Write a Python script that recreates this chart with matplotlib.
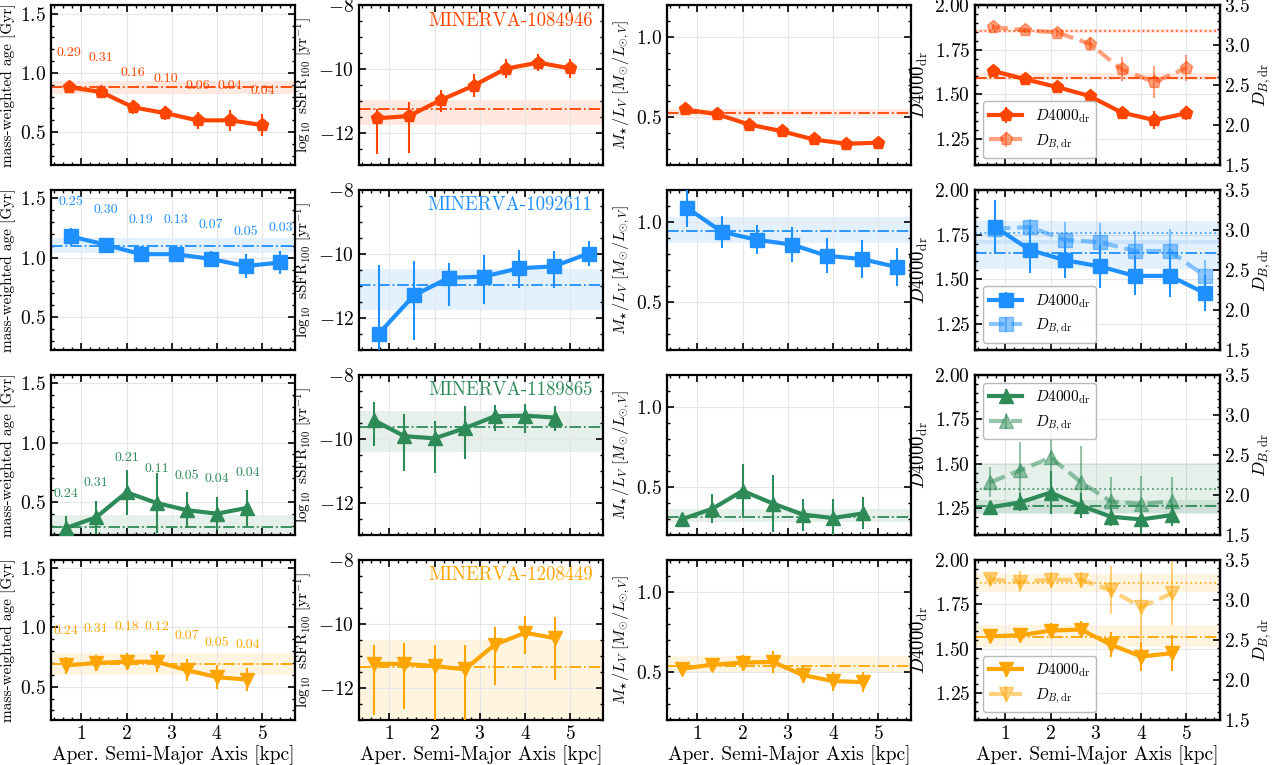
import matplotlib

matplotlib.use("Agg")
import matplotlib.pyplot as plt
from matplotlib.ticker import AutoMinorLocator, MultipleLocator

plt.rcParams.update({
    "font.family": "serif",
    "font.serif": ["cmr10"],
    "mathtext.fontset": "cm",
    "axes.formatter.use_mathtext": True,
    "axes.linewidth": 1.6,
    "xtick.direction": "in",
    "ytick.direction": "in",
    "xtick.major.size": 5,
    "ytick.major.size": 5,
    "xtick.minor.size": 2.5,
    "ytick.minor.size": 2.5,
    "xtick.major.width": 1.2,
    "ytick.major.width": 1.2,
    "xtick.minor.width": 1.0,
    "ytick.minor.width": 1.0,
    "xtick.labelsize": 14,
    "ytick.labelsize": 14,
    "axes.labelsize": 11,
    "axes.labelpad": 2,
})

# ---- MINERVA-1084946 ----
x_a = [0.72, 1.43, 2.15, 2.86, 3.57, 4.29, 5.00]
age_a = [0.88, 0.84, 0.71, 0.66, 0.60, 0.60, 0.56]
age_err_a = [0.03, 0.04, 0.06, 0.06, 0.07, 0.09, 0.09]
frac_a = ["0.29", "0.31", "0.16", "0.10", "0.06", "0.04", "0.04"]
ssfr_a = [-11.53, -11.46, -10.95, -10.51, -9.98, -9.79, -9.97]
ssfr_lo_a = [1.10, 1.15, 0.37, 0.35, 0.30, 0.27, 0.30]
ssfr_hi_a = [0.30, 0.45, 0.32, 0.37, 0.30, 0.27, 0.30]
ml_a = [0.55, 0.52, 0.455, 0.414, 0.362, 0.335, 0.342]
ml_err_a = [0.015, 0.015, 0.015, 0.015, 0.015, 0.015, 0.015]
d4000_a = [1.632, 1.585, 1.54, 1.49, 1.397, 1.355, 1.393]
d4000_err_a = [0.015, 0.015, 0.02, 0.02, 0.03, 0.05, 0.04]
db_a = [3.23, 3.19, 3.16, 3.02, 2.70, 2.54, 2.72]
db_err_a = [0.04, 0.03, 0.05, 0.09, 0.15, 0.20, 0.16]
# integrated value, band low, band high
age_int_a = [0.88, 0.82, 0.93]
ssfr_int_a = [-11.24, -11.75, -10.95]
ml_int_a = [0.53, 0.51, 0.555]
d4000_int_a = [1.594, 1.58, 1.62]
db_int_a = [3.18, 3.15, 3.21]

# ---- MINERVA-1092611 ----
x_b = [0.77, 1.54, 2.31, 3.09, 3.86, 4.63, 5.40]
age_b = [1.18, 1.11, 1.03, 1.03, 0.99, 0.93, 0.96]
age_err_b = [0.07, 0.06, 0.07, 0.07, 0.07, 0.10, 0.10]
frac_b = ["0.25", "0.30", "0.19", "0.13", "0.07", "0.05", "0.03"]
ssfr_b = [-12.48, -11.29, -10.74, -10.70, -10.44, -10.38, -9.98]
ssfr_lo_b = [1.00, 1.40, 0.89, 0.85, 0.62, 0.68, 0.40]
ssfr_hi_b = [2.13, 1.09, 0.46, 0.67, 0.57, 0.48, 0.38]
ml_b = [1.09, 0.94, 0.89, 0.86, 0.79, 0.77, 0.72]
ml_err_b = [0.12, 0.10, 0.09, 0.11, 0.11, 0.12, 0.12]
d4000_b = [1.794, 1.664, 1.607, 1.571, 1.518, 1.518, 1.422]
d4000_err_b = [0.15, 0.13, 0.10, 0.12, 0.11, 0.12, 0.10]
db_b = [3.02, 3.04, 2.88, 2.85, 2.74, 2.74, 2.43]
db_err_b = [0.02, 0.10, 0.22, 0.24, 0.25, 0.27, 0.20]
age_int_b = [1.10, 1.04, 1.17]
ssfr_int_b = [-10.97, -11.73, -10.46]
ml_int_b = [0.943, 0.87, 1.03]
d4000_int_b = [1.647, 1.556, 1.718]
db_int_b = [2.97, 2.83, 3.12]

# ---- MINERVA-1189865 ----
x_c = [0.67, 1.33, 2.00, 2.67, 3.33, 4.00, 4.67]
age_c = [0.28, 0.37, 0.58, 0.49, 0.43, 0.40, 0.45]
age_err_c = [0.10, 0.14, 0.19, 0.25, 0.15, 0.14, 0.15]
frac_c = ["0.24", "0.31", "0.21", "0.11", "0.05", "0.04", "0.04"]
ssfr_c = [-9.42, -9.91, -9.98, -9.66, -9.29, -9.27, -9.33]
ssfr_lo_c = [0.80, 1.10, 1.07, 0.95, 0.45, 0.53, 0.41]
ssfr_hi_c = [0.57, 0.70, 0.53, 0.68, 0.34, 0.37, 0.37]
ml_c = [0.30, 0.364, 0.476, 0.397, 0.328, 0.306, 0.336]
ml_err_c = [0.04, 0.09, 0.17, 0.18, 0.10, 0.12, 0.10]
d4000_c = [1.256, 1.284, 1.339, 1.265, 1.203, 1.188, 1.212]
d4000_err_c = [0.03, 0.05, 0.12, 0.07, 0.05, 0.08, 0.06]
db_c = [2.16, 2.31, 2.47, 2.16, 1.92, 1.89, 1.92]
db_err_c = [0.19, 0.35, 0.45, 0.45, 0.30, 0.35, 0.30]
age_int_c = [0.29, 0.20, 0.39]
ssfr_int_c = [-9.61, -10.40, -9.14]
ml_int_c = [0.31, 0.28, 0.36]
d4000_int_c = [1.263, 1.218, 1.297]
db_int_c = [2.08, 1.77, 2.40]

# ---- MINERVA-1208449 ----
x_d = [0.67, 1.33, 2.00, 2.67, 3.33, 4.00, 4.67]
age_d = [0.68, 0.70, 0.71, 0.71, 0.64, 0.58, 0.56]
age_err_d = [0.07, 0.07, 0.07, 0.09, 0.09, 0.10, 0.10]
frac_d = ["0.24", "0.31", "0.18", "0.12", "0.07", "0.05", "0.04"]
ssfr_d = [-11.25, -11.25, -11.32, -11.42, -10.65, -10.28, -10.45]
ssfr_lo_d = [1.60, 1.40, 1.80, 1.70, 1.25, 0.67, 1.30]
ssfr_hi_d = [0.60, 0.65, 0.65, 0.75, 0.55, 0.53, 0.65]
ml_d = [0.52, 0.545, 0.558, 0.562, 0.48, 0.442, 0.436]
ml_err_d = [0.03, 0.03, 0.05, 0.07, 0.05, 0.06, 0.06]
d4000_d = [1.57, 1.576, 1.602, 1.608, 1.523, 1.456, 1.475]
d4000_err_d = [0.04, 0.04, 0.04, 0.05, 0.07, 0.08, 0.10]
db_d = [3.255, 3.226, 3.25, 3.25, 3.12, 2.91, 3.08]
db_err_d = [0.07, 0.13, 0.10, 0.10, 0.30, 0.42, 0.40]
age_int_d = [0.69, 0.60, 0.78]
ssfr_int_d = [-11.35, -13.1, -10.50]
ml_int_d = [0.536, 0.49, 0.60]
d4000_int_d = [1.565, 1.507, 1.633]
db_int_d = [3.21, 3.10, 3.32]

names = ["MINERVA-1084946", "MINERVA-1092611", "MINERVA-1189865", "MINERVA-1208449"]
colors = ["#ff4500", "#1e90ff", "#2e8b57", "#ffa500"]
markers = ["p", "s", "^", "v"]
legend_locs = ["lower left", "lower left", "upper left", "lower left"]

galaxies = [
    dict(x=x_a, age=age_a, age_err=age_err_a, frac=frac_a, ssfr=ssfr_a,
         ssfr_err=[ssfr_lo_a, ssfr_hi_a], ml=ml_a, ml_err=ml_err_a,
         d4000=d4000_a, d4000_err=d4000_err_a, db=db_a, db_err=db_err_a,
         age_int=age_int_a, ssfr_int=ssfr_int_a, ml_int=ml_int_a,
         d4000_int=d4000_int_a, db_int=db_int_a),
    dict(x=x_b, age=age_b, age_err=age_err_b, frac=frac_b, ssfr=ssfr_b,
         ssfr_err=[ssfr_lo_b, ssfr_hi_b], ml=ml_b, ml_err=ml_err_b,
         d4000=d4000_b, d4000_err=d4000_err_b, db=db_b, db_err=db_err_b,
         age_int=age_int_b, ssfr_int=ssfr_int_b, ml_int=ml_int_b,
         d4000_int=d4000_int_b, db_int=db_int_b),
    dict(x=x_c, age=age_c, age_err=age_err_c, frac=frac_c, ssfr=ssfr_c,
         ssfr_err=[ssfr_lo_c, ssfr_hi_c], ml=ml_c, ml_err=ml_err_c,
         d4000=d4000_c, d4000_err=d4000_err_c, db=db_c, db_err=db_err_c,
         age_int=age_int_c, ssfr_int=ssfr_int_c, ml_int=ml_int_c,
         d4000_int=d4000_int_c, db_int=db_int_c),
    dict(x=x_d, age=age_d, age_err=age_err_d, frac=frac_d, ssfr=ssfr_d,
         ssfr_err=[ssfr_lo_d, ssfr_hi_d], ml=ml_d, ml_err=ml_err_d,
         d4000=d4000_d, d4000_err=d4000_err_d, db=db_d, db_err=db_err_d,
         age_int=age_int_d, ssfr_int=ssfr_int_d, ml_int=ml_int_d,
         d4000_int=d4000_int_d, db_int=db_int_d),
]

XLIM = (0.33, 5.73)
LW = 3.0
MS = 9.5


def style_axis(ax, right=True):
    ax.set_xlim(*XLIM)
    ax.xaxis.set_major_locator(MultipleLocator(1))
    ax.xaxis.set_minor_locator(AutoMinorLocator())
    ax.yaxis.set_minor_locator(AutoMinorLocator())
    ax.tick_params(which="both", top=True, right=right)
    ax.grid(True, which="major", color="0.9", linewidth=0.8)
    ax.set_axisbelow(True)


def profile(ax, x, y, err, color, marker, integ, ls_int="-.", alpha=1.0, ls="-"):
    ax.axhspan(integ[1], integ[2], color=color, alpha=0.12, lw=0, zorder=0)
    ax.axhline(integ[0], color=color, ls=ls_int, lw=1.3, alpha=max(alpha, 0.8), zorder=1)
    eb = ax.errorbar(x, y, yerr=err, color=color, marker=marker, ms=MS, lw=LW,
                     ls=ls, elinewidth=1.5, capsize=0, alpha=alpha, zorder=3)
    return eb


fig, axes = plt.subplots(4, 4, figsize=(12.73, 7.65), dpi=100)
fig.subplots_adjust(left=0.04, right=0.958, top=0.993, bottom=0.059,
                    wspace=0.26, hspace=0.155)

for row, g in enumerate(galaxies):
    c = colors[row]
    m = markers[row]
    ax_age, ax_ssfr, ax_ml, ax_d = axes[row]

    # mass-weighted age
    style_axis(ax_age)
    profile(ax_age, g["x"], g["age"], g["age_err"], c, m, g["age_int"])
    for xi, yi, lab in zip(g["x"], g["age"], g["frac"]):
        ax_age.text(xi, yi + 0.29, lab, color=c, fontsize=10,
                    ha="center", va="center")
    ax_age.set_ylim(0.22, 1.57)
    ax_age.yaxis.set_major_locator(MultipleLocator(0.5))
    ax_age.set_ylabel("mass-weighted age [Gyr]", fontsize=11, labelpad=3)

    # sSFR
    style_axis(ax_ssfr)
    profile(ax_ssfr, g["x"], g["ssfr"], g["ssfr_err"], c, m, g["ssfr_int"])
    ax_ssfr.set_ylim(-13.0, -8.0)
    ax_ssfr.yaxis.set_major_locator(MultipleLocator(2))
    ax_ssfr.set_ylabel(r"$\log_{10}$ sSFR$_{100}$ [yr$^{-1}$]", fontsize=11, labelpad=3)
    ax_ssfr.text(0.955, 0.905, names[row], color=c, fontsize=13.5,
                 ha="right", va="center", transform=ax_ssfr.transAxes)

    # M/L
    style_axis(ax_ml)
    profile(ax_ml, g["x"], g["ml"], g["ml_err"], c, m, g["ml_int"])
    ax_ml.set_ylim(0.2, 1.2)
    ax_ml.yaxis.set_major_locator(MultipleLocator(0.5))
    ax_ml.set_ylabel(r"$M_{\star}/L_V\ [M_{\odot}/L_{\odot,V}]$", fontsize=11.5, labelpad=3)

    # D4000 and D_B
    style_axis(ax_d, right=False)
    ax_db = ax_d.twinx()
    h1 = profile(ax_d, g["x"], g["d4000"], g["d4000_err"], c, m, g["d4000_int"])
    h2 = profile(ax_db, g["x"], g["db"], g["db_err"], c, m, g["db_int"],
                 ls_int=":", alpha=0.5, ls="--")
    ax_d.set_ylim(1.1, 2.0)
    ax_d.yaxis.set_major_locator(MultipleLocator(0.25))
    ax_d.set_ylabel(r"$D4000_{\rm dr}$", fontsize=13.5, labelpad=3)
    ax_db.set_ylim(1.5, 3.5)
    ax_db.yaxis.set_major_locator(MultipleLocator(0.5))
    ax_db.yaxis.set_minor_locator(AutoMinorLocator())
    ax_db.tick_params(which="both", direction="in")
    ax_db.set_ylabel(r"$D_{B,{\rm dr}}$", fontsize=13, labelpad=1)
    leg = ax_db.legend([h1, h2], [r"$D4000_{\rm dr}$", r"$D_{B,{\rm dr}}$"],
                       loc=legend_locs[row], fontsize=11, handlelength=2.2,
                       framealpha=0.9, edgecolor="0.7", fancybox=True)
    leg.get_frame().set_linewidth(1.0)

    for ax in (ax_age, ax_ssfr, ax_ml, ax_d):
        if row < 3:
            ax.tick_params(labelbottom=False)
        else:
            ax.set_xlabel("Aper. Semi-Major Axis [kpc]", fontsize=14)

fig.savefig("out.png", dpi=100)
